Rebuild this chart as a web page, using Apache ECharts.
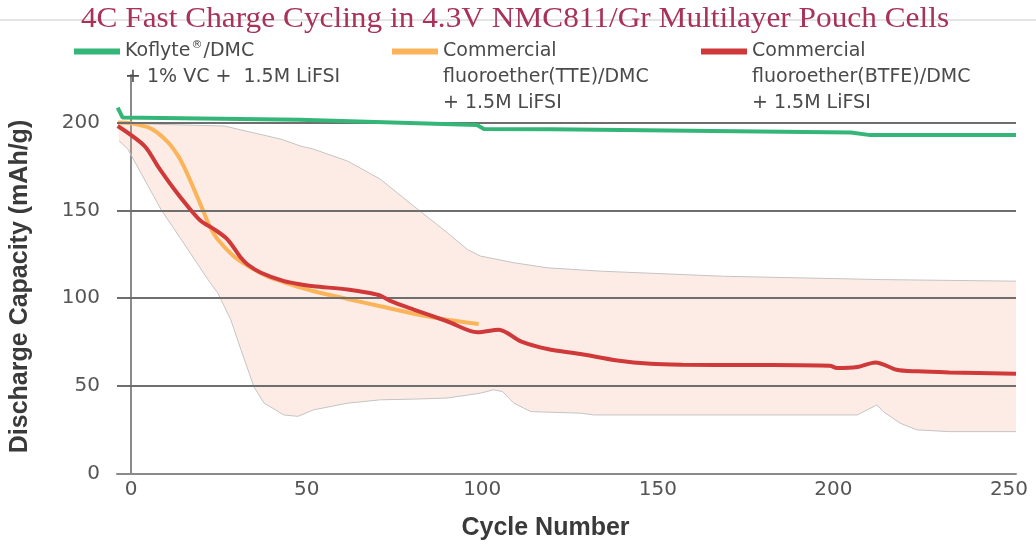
<!DOCTYPE html>
<html>
<head>
<meta charset="utf-8">
<script src="https://cdn.jsdelivr.net/npm/echarts@6/dist/echarts.min.js"></script>
<style>html,body{margin:0;padding:0;background:#fff;}#c{width:1036px;height:546px;}</style>
</head>
<body>
<div id="c"></div>
<script>
// ---- data (cycle number, discharge capacity mAh/g) ----
const titleText = '4C Fast Charge Cycling in 4.3V NMC811/Gr Multilayer Pouch Cells';
const seriesNames = ['Koflyte', 'TTE', 'BTFE'];
const legendLabels = [
  '{a|Koflyte}{s|®}{a|/DMC}\n{a|+ 1% VC +  1.5M LiFSI}',
  '{a|Commercial}\n{a|fluoroether(TTE)/DMC}\n{a|+ 1.5M LiFSI}',
  '{a|Commercial}\n{a|fluoroether(BTFE)/DMC}\n{a|+ 1.5M LiFSI}'
];
const yTicks = [50, 100, 150, 200];
const koflyte = [[-3.8,208.5],[-2.4,202.8],[48,201.5],[98.5,198.5],[100.5,196.3],[120,196.2],[205,194.3],[210.5,192.8],[252,192.8]];
const tte = [[-3.7,200],[0,199.5],[5.7,196.5],[10.4,189],[13.4,181],[15.5,173],[19,157],[21,147.5],[22.5,140.5],[24.7,133.4],[29.3,123.8],[34,117.5],[39,112.3],[43,109.5],[48.4,106],[52,104],[61.7,99.6],[71,95.4],[80.5,91.2],[90,87.8],[99,85.4]];
const btfe = [[-3.8,198],[3.8,186.7],[7.6,175.2],[12.3,162],[16.1,152.4],[19.9,143.9],[23.7,139.2],[27.5,133.4],[31.3,123],[33.2,119.2],[37,114.5],[43.6,109.7],[48.4,107.8],[52,106.8],[61.7,105],[68,103],[71,101.5],[74,98.3],[80.5,93.5],[90,86.9],[98.7,80.6],[104.7,82.1],[111,75.5],[118.6,71.1],[128,68.3],[138.5,64.6],[148,62.7],[157,62.2],[176,62],[199,61.6],[201,60.3],[206.8,60.9],[212,63.5],[218,59.3],[224,58.4],[233,57.8],[252,57]];
const bandUpper = [[-3.7,199.5],[26.5,198],[42.7,190.5],[48.4,186.5],[52,184.8],[61.7,178],[71,167.7],[80.5,152.4],[90,137.4],[95.8,127.7],[99.5,124],[109,120.2],[118.6,117.3],[133.7,115.4],[168.7,112.5],[214,110.6],[252,109.7]];
const bandLower = [[-3.4,189.5],[-0.9,184.8],[8.5,150.6],[16.2,127.7],[21.9,110.6],[24.7,103],[28.4,87.8],[31.3,70.7],[35,49.6],[37.8,40.5],[43.5,33.6],[47.5,32.8],[52,36.5],[61.7,40.3],[71,42.2],[80.5,42.6],[90,43.2],[99.5,46],[103.2,47.9],[105.8,46.9],[109,40.3],[113.8,35.5],[128,34.6],[131.7,33.6],[206.8,33.6],[212.4,39.3],[214.2,35.5],[219,28.9],[223.8,25.1],[233.2,24.1],[252,24.1]];

const colors = ['#35b679', '#fbb45a', '#d0393a'];
const chart = echarts.init(document.getElementById('c'), null, {renderer: 'canvas'});
const txtFont = '"DejaVu Sans", sans-serif';
const nameFont = '"Liberation Sans", Arial, sans-serif';

// legend icon: a bar aligned with the first text line inside a tall box
function barIcon(h) {
  return 'path://M0,0 L0.05,0 L0,0.05 Z M0,10 L46,10 L46,16 L0,16 Z M0,' + h + ' L0.05,' + h + ' L0,' + (h - 0.05) + ' Z';
}
function legendFor(i, left, nLines) {
  const h = nLines * 26;
  return {
    data: [seriesNames[i]],
    left: left, top: 38.5,
    padding: 0,
    icon: barIcon(h), itemWidth: 46, itemHeight: h,
    selectedMode: false,
    formatter: () => legendLabels[i],
    textStyle: {
      fontFamily: txtFont, fontSize: 19, color: '#4a4a4a', lineHeight: 26,
      rich: {
        a: {fontFamily: txtFont, fontSize: 19, color: '#4a4a4a', lineHeight: 26},
        s: {fontFamily: txtFont, fontSize: 11, color: '#4a4a4a', lineHeight: 12, padding: [0, 1, 12, 1]}
      }
    }
  };
}

const option = {
  animation: false,
  graphic: [
    {type: 'line', shape: {x1: 0, y1: 20, x2: 1036, y2: 20}, style: {stroke: '#c8c8c8', lineWidth: 1}, z: 0, silent: true},
    {type: 'text', x: 515, y: 19, scaleX: 1.08, z: 10, silent: true,
     style: {text: titleText, font: '29px "Liberation Serif", "Times New Roman", serif', fill: '#a8325a', align: 'center', verticalAlign: 'middle'}}
  ],
  legend: [legendFor(0, 74, 2), legendFor(1, 392, 3), legendFor(2, 701, 3)],
  grid: {left: 116, right: 20, top: 75, bottom: 72},
  xAxis: {
    type: 'value', min: -4, max: 252,
    name: 'Cycle Number', nameLocation: 'middle', nameGap: 42,
    nameTextStyle: {fontFamily: nameFont, fontSize: 25, fontWeight: 'bold', color: '#3a3a3a', padding: [0, 42, 0, 0]},
    axisLine: {show: true, lineStyle: {color: '#8a8a8a', width: 2}},
    axisTick: {show: false},
    splitLine: {show: false},
    axisLabel: {showMinLabel: false, showMaxLabel: false, margin: 6, fontFamily: txtFont, fontSize: 20, color: '#555'}
  },
  yAxis: {
    type: 'value', min: 0, max: 227, interval: 50,
    name: 'Discharge Capacity (mAh/g)', nameLocation: 'middle', nameGap: 84, nameRotate: 90,
    nameTextStyle: {fontFamily: nameFont, fontSize: 25, fontWeight: 'bold', color: '#3a3a3a', padding: [0, 24, 0, 0]},
    axisLine: {show: true, lineStyle: {color: '#8a8a8a', width: 2}},
    axisTick: {show: false},
    splitLine: {show: false},
    axisLabel: {showMaxLabel: false, margin: 17, fontFamily: txtFont, fontSize: 20, color: '#555'}
  },
  series: [
    {
      type: 'custom', name: 'band', z: 1, silent: true,
      data: [[0, 0]],
      renderItem: function (params, api) {
        const up = bandUpper.map(p => api.coord(p));
        const lo = bandLower.map(p => api.coord(p));
        const poly = up.concat(lo.slice().reverse());
        return {type: 'group', children: [
          {type: 'polygon', shape: {points: poly}, style: {fill: 'rgba(245,175,145,0.24)'}},
          {type: 'polyline', shape: {points: up}, style: {stroke: '#c4c4c4', lineWidth: 1, fill: null}},
          {type: 'polyline', shape: {points: lo}, style: {stroke: '#c4c4c4', lineWidth: 1, fill: null}}
        ]};
      }
    },
    {
      type: 'line', name: 'grid', data: [], z: 2, silent: true,
      markLine: {
        silent: true, symbol: 'none', label: {show: false},
        lineStyle: {color: '#6e6e6e', width: 2, type: 'solid'},
        data: yTicks.map(v => ({yAxis: v}))
      }
    },
    {type: 'line', name: seriesNames[0], data: koflyte, showSymbol: false, z: 5, color: colors[0], lineStyle: {width: 4, color: colors[0]}},
    {type: 'line', name: seriesNames[1], data: tte, showSymbol: false, smooth: 0.3, z: 4, color: colors[1], lineStyle: {width: 4, color: colors[1]}},
    {type: 'line', name: seriesNames[2], data: btfe, showSymbol: false, smooth: 0.3, z: 6, color: colors[2], lineStyle: {width: 4, color: colors[2]}}
  ]
};
chart.setOption(option);
</script>
</body>
</html>
